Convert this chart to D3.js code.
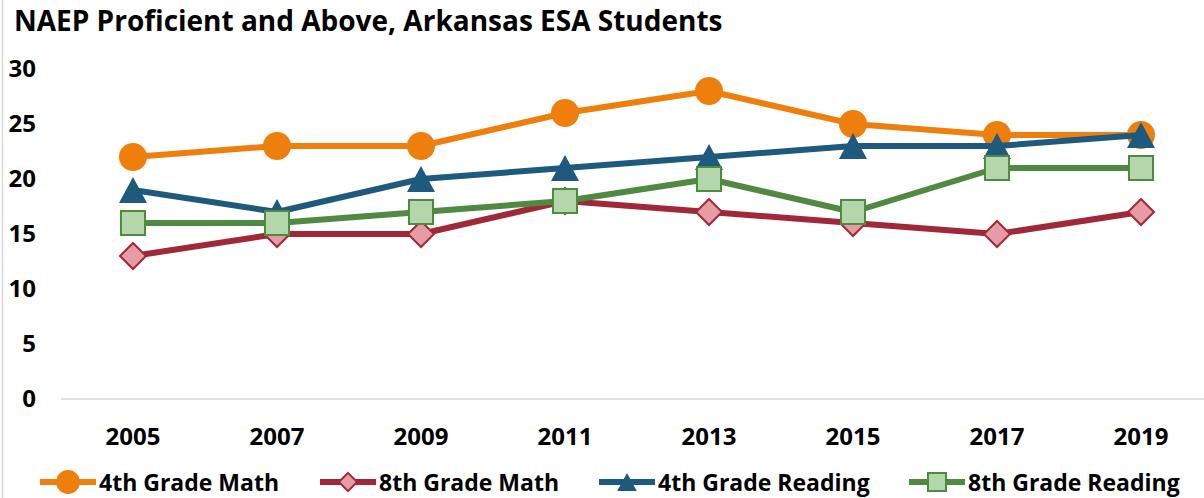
<!DOCTYPE html>
<html>
<head>
<meta charset="utf-8">
<script src="https://cdn.jsdelivr.net/npm/d3@7"></script>
<style>
  body { margin: 0; background: #fff; }
  text { font-family: "Open Sans", Lato, sans-serif; font-weight: bold; fill: #000; }
</style>
</head>
<body>
<div id="chart"></div>
<script>
// data
const years = ["2005", "2007", "2009", "2011", "2013", "2015", "2017", "2019"];
const math4 = [22, 23, 23, 26, 28, 25, 24, 24];
const math8 = [13, 15, 15, 18, 17, 16, 15, 17];
const read4 = [19, 17, 20, 21, 22, 23, 23, 24];
const read8 = [16, 16, 17, 18, 20, 17, 21, 21];
const yTicks = [0, 5, 10, 15, 20, 25, 30];

const series = [
  { name: "4th Grade Math", values: math4, color: "#ef7f0c", fill: "#ef7f0c", shape: "circle" },
  { name: "8th Grade Math", values: math8, color: "#a02838", fill: "#e59ca4", shape: "diamond" },
  { name: "4th Grade Reading", values: read4, color: "#1d5a7d", fill: "#1d5a7d", shape: "triangle" },
  { name: "8th Grade Reading", values: read8, color: "#4e8a40", fill: "#b3d6aa", shape: "square" }
];

const width = 1204, height = 498;
const svg = d3.select("#chart").append("svg")
  .attr("width", width)
  .attr("height", height);

// faint chart border on the left
svg.append("line")
  .attr("x1", 2.5).attr("x2", 2.5).attr("y1", 0).attr("y2", height)
  .attr("stroke", "#d9d9d9").attr("stroke-width", 1.5);

svg.append("text")
  .attr("x", 14).attr("y", 31)
  .style("font-size", "28px")
  .text("NAEP Proficient and Above, Arkansas ESA Students");

const x = d3.scalePoint().domain(years).range([61, 1213]).padding(0.5);
const y = d3.scaleLinear().domain([0, 30]).range([399, 69]);

// baseline
svg.append("line")
  .attr("x1", 61).attr("x2", 1213)
  .attr("y1", y(0)).attr("y2", y(0))
  .attr("stroke", "#d9d9d9").attr("stroke-width", 1.5);

// y tick labels
svg.append("g").selectAll("text")
  .data(yTicks).enter().append("text")
  .attr("x", 36).attr("y", d => y(d) + 8)
  .attr("text-anchor", "end")
  .style("font-size", "24px")
  .text(d => d);

// x tick labels
svg.append("g").selectAll("text")
  .data(years).enter().append("text")
  .attr("x", d => x(d)).attr("y", 445)
  .attr("text-anchor", "middle")
  .style("font-size", "24px")
  .text(d => d);

function symbolPath(shape, s) {
  if (shape === "circle") return d3.symbol(d3.symbolCircle, Math.PI * (14 * s) * (14 * s))();
  if (shape === "square") return d3.symbol(d3.symbolSquare, (24 * s) * (24 * s))();
  if (shape === "triangle") {
    const w = 14 * s, h = 13 * s;
    return `M0,${-h}L${w},${h}L${-w},${h}Z`;
  }
  const r = 13 * s;
  return `M0,${-r}L${r},0L0,${r}L${-r},0Z`;
}

const line = d3.line()
  .x((d, i) => x(years[i]))
  .y(d => y(d));

series.forEach(s => {
  const g = svg.append("g");
  g.append("path")
    .datum(s.values)
    .attr("d", line)
    .attr("fill", "none")
    .attr("stroke", s.color)
    .attr("stroke-width", 6)
    .attr("stroke-linejoin", "round");
  g.selectAll("path.mark")
    .data(s.values).enter().append("path")
    .attr("class", "mark")
    .attr("transform", (d, i) => `translate(${x(years[i])},${y(d)})`)
    .attr("d", symbolPath(s.shape, 1))
    .attr("fill", s.fill)
    .attr("stroke", s.color)
    .attr("stroke-width", s.shape === "square" || s.shape === "diamond" ? 2 : 0);
});

// legend
const legendX = [40, 320, 599, 909];
const legendScale = [0.85, 0.7, 0.7, 0.75];
const legend = svg.append("g");
series.forEach((s, i) => {
  const lx = legendX[i], ly = 482;
  const g = legend.append("g");
  g.append("line")
    .attr("x1", lx).attr("x2", lx + 56)
    .attr("y1", ly).attr("y2", ly)
    .attr("stroke", s.color).attr("stroke-width", 6);
  g.append("path")
    .attr("transform", `translate(${lx + 28},${ly})`)
    .attr("d", symbolPath(s.shape, legendScale[i]))
    .attr("fill", s.fill)
    .attr("stroke", s.color)
    .attr("stroke-width", s.shape === "square" || s.shape === "diamond" ? 2 : 0);
  g.append("text")
    .attr("x", lx + 59).attr("y", ly + 9)
    .style("font-size", "23px")
    .text(s.name);
});
</script>
</body>
</html>
